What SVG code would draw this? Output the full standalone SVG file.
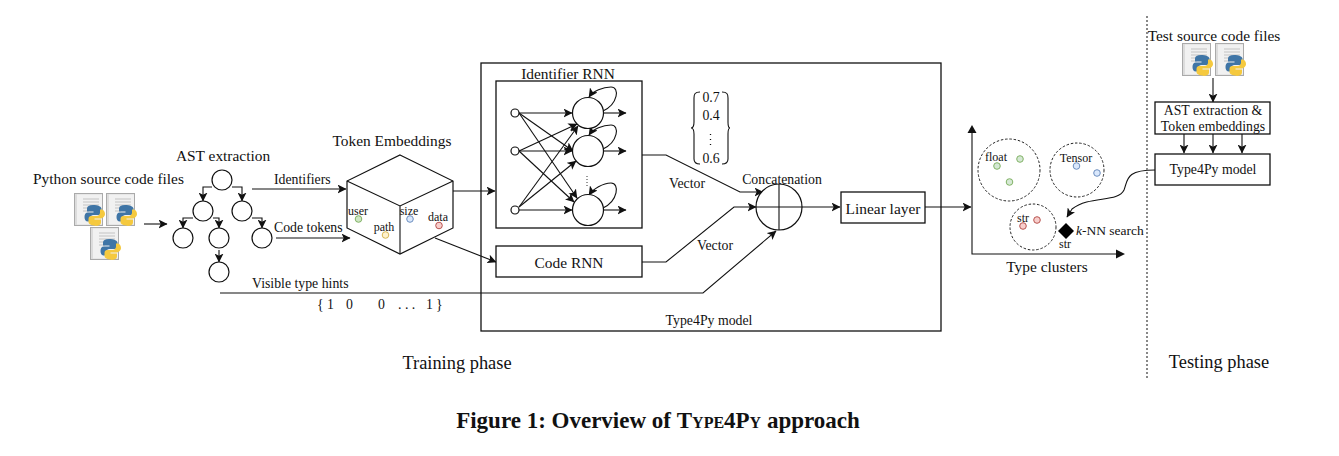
<svg xmlns="http://www.w3.org/2000/svg" width="1339" height="456" viewBox="0 0 1339 456">
<style>
text{font-family:"Liberation Serif","Times New Roman",serif;font-size:15.400px;fill:#111}
.m{text-anchor:middle}
.s{font-size:12px}
.t{font-size:13.800px}
.p{font-size:18.400px}
.l{fill:none;stroke:#111;stroke-width:1.1}
.a{fill:none;stroke:#111;stroke-width:1.1;marker-end:url(#ah)}
.b{fill:#fff;stroke:#111;stroke-width:1.3}
.n{fill:#fff;stroke:#111;stroke-width:1.2}
.d{fill:none;stroke:#222;stroke-width:1;stroke-dasharray:2.5 1.8}
</style>
<defs>
<marker id="ah" markerWidth="10" markerHeight="9" refX="8.500" refY="4.500" orient="auto" markerUnits="userSpaceOnUse"><path d="M0 0L9 4.500L0 9L2.200 4.500Z" fill="#111"/></marker>
<g id="file">
<rect x="0.500" y="0.500" width="28" height="32" fill="#dcdcdc" stroke="#aaa"/>
<rect x="3" y="1.500" width="25" height="30" fill="#f1f1f1"/>
<path d="M9 6h16M9 9h16M9 12h16M9 15h11M9 18h6" stroke="#c4c4c4" stroke-width="1.200"/>
<path d="M19 12c-4 0-6 1.500-6 3.500v3h6.500v1H14c-2.500 0-3.500 2-3.500 4.500s1 4.500 3.500 4.500h2v-3c0-2 1.500-3.500 3.500-3.500h5c2 0 3-1 3-3v-3.500C27 13.500 24 12 19 12z" fill="#3f75a6"/>
<path d="M21 33c4 0 6-1.500 6-3.500v-3h-6.500v-1H26c2.500 0 5-2 5-4.500s-1.500-4.500-4-4.500h-1v3c0 2-1.500 3.500-3.500 3.500h-5c-2 0-3 1-3 3v3c0 2 3 3.500 6.500 3.500z" fill="#f5c93e"/>
</g>
</defs>
<rect width="1339" height="456" fill="#fff"/>

<g id="connectors">
<path class="a" d="M144 224H167"/>
<path class="a" d="M212 187H203V201"/>
<path class="a" d="M232 187H242V201"/>
<path class="a" d="M193 218H183V228"/>
<path class="a" d="M213 218H219V228"/>
<path class="a" d="M252 218H262V228"/>
<path class="a" d="M219 250V262"/>
<path class="a" d="M252 189H346"/>
<path class="a" d="M276 238H350"/>
<path class="a" d="M453 191H495"/>
<path class="a" d="M435 238L496 262"/>
<path class="a" d="M220 293H703L776 231"/>
<path class="a" d="M519 113H572"/>
<path class="a" d="M519 113L573 151"/>
<path class="a" d="M519 113L577 198"/>
<path class="a" d="M519 151L577 124"/>
<path class="a" d="M519 151H572"/>
<path class="a" d="M519 151L574 202"/>
<path class="a" d="M519 207L578 126"/>
<path class="a" d="M519 207L576 161"/>
<path class="a" d="M519 210H572"/>
<path class="a" d="M603 113H626"/>
<path class="a" d="M603 151H626"/>
<path class="a" d="M603 210H626"/>
<path class="a" d="M603 111C618 104 620 87 611 87C603 87 593 91 589 97"/>
<path class="a" d="M603 149C618 142 620 125 611 125C603 125 593 129 589 135"/>
<path class="a" d="M603 208C618 201 620 183 611 183C603 183 593 189 589 195"/>
<path class="a" d="M642 155H666L740 192H763"/>
<path class="a" d="M642 262H666L734 207H756"/>
<path class="a" d="M802 207H840"/>
<path class="a" d="M925 207H971"/>
<path class="a" d="M1155 170C1125 170 1128 180 1124 190C1118 203 1090 195 1072 209L1067 217"/>
<path class="a" d="M1213 78V102"/>
<path class="a" d="M1184 134V153"/>
<path class="a" d="M1213 134V153"/>
<path class="a" d="M1242 134V153"/>
</g>

<g id="python-files">
<use href="#file" x="74" y="193"/><use href="#file" x="106" y="193"/><use href="#file" x="90" y="227"/>
<text class="m" x="108.500" y="184">Python source code files</text>
</g>
<g id="ast-tree">
<text class="m" x="223" y="161">AST extraction</text>
<circle class="n" cx="222" cy="180" r="10"/><circle class="n" cx="203" cy="211" r="10"/><circle class="n" cx="242" cy="211" r="10"/>
<circle class="n" cx="183" cy="238" r="10"/><circle class="n" cx="219" cy="238" r="10"/><circle class="n" cx="262" cy="238" r="10"/><circle class="n" cx="219" cy="272" r="10"/>
</g>
<text class="t" x="274" y="184">Identifiers</text>
<text class="t" x="274" y="232">Code tokens</text>
<text class="t" x="252" y="288">Visible type hints</text>
<g id="type-hints" class="t">
<text class="t" x="317" y="309">{</text><text class="t" x="327" y="309">1</text><text class="t" x="346" y="309">0</text><text class="t" x="378" y="309">0</text><text class="t" x="398" y="309">. . .</text><text class="t" x="426" y="309">1</text><text class="t" x="436" y="309">}</text>
</g>

<g id="token-embeddings">
<text class="m" x="392" y="146">Token Embeddings</text>
<path d="M400 155L453 181V228L400 254L347 228V181Z" fill="#fff" stroke="#111" stroke-width="1.200"/>
<path class="l" d="M347 181L400 206L453 181M400 206V254"/>
<text class="m s" x="358" y="215">user</text><circle cx="358.500" cy="219" r="3.300" fill="#cfe6c4" stroke="#82b366"/>
<text class="m s" x="384" y="231">path</text><circle cx="385.500" cy="235" r="3.300" fill="#fff2cc" stroke="#d6b656"/>
<text class="m s" x="409" y="215">size</text><circle cx="410" cy="219" r="3.300" fill="#dae8fc" stroke="#6c8ebf"/>
<text class="m s" x="438" y="221">data</text><circle cx="439" cy="225.500" r="3.300" fill="#f8cecc" stroke="#b85450"/>
</g>

<g id="type4py-model">
<rect x="481" y="63" width="460" height="268" fill="none" stroke="#111" stroke-width="1.300"/>
<text class="m t" x="709" y="325">Type4Py model</text>
</g>
<g id="identifier-rnn">
<rect x="496" y="81" width="146" height="147" fill="none" stroke="#111" stroke-width="1.300"/>
<text class="m" x="568" y="79">Identifier RNN</text>
<circle class="n" cx="515" cy="113" r="4"/><circle class="n" cx="515" cy="151" r="4"/><circle class="n" cx="515" cy="210" r="4"/>
<circle class="n" cx="588" cy="113" r="15.500"/><circle class="n" cx="588" cy="151" r="15.500"/><circle class="n" cx="588" cy="210" r="15.500"/>
<path d="M587 176v1M587 179v1M587 182v1M587 185v1" stroke="#333" stroke-width="1"/>
</g>
<g id="code-rnn"><rect class="b" x="496" y="246" width="146" height="31"/><text class="m" x="569" y="268">Code RNN</text></g>
<g id="vector-values">
<path class="l" d="M700 92C695 92 694 94 694 98V122C694 127 693 128 691 128C693 128 694 129 694 134V159C694 162 695 164 700 164"/>
<path class="l" d="M722 92C727 92 728 94 728 98V122C728 127 729 128 730 128C729 128 728 129 728 134V159C728 162 727 164 722 164"/>
<text class="m t" x="711" y="102">0.7</text>
<text class="m t" x="711" y="120">0.4</text>
<path d="M710.500 134v1M710.500 139v1M710.500 144v1" stroke="#111" stroke-width="1.300"/>
<text class="m t" x="711" y="163">0.6</text>
</g>
<text class="m t" x="687" y="188">Vector</text>
<text class="m t" x="715" y="250">Vector</text>
<g id="concatenation">
<circle class="n" cx="779" cy="207" r="23"/><path class="l" d="M779 184V230M756 207H802"/>
<text class="m t" x="782" y="184">Concatenation</text>
</g>
<g id="linear-layer"><rect class="b" x="841" y="192" width="84" height="31"/><text class="m" x="883" y="214">Linear layer</text></g>

<g id="type-clusters">
<path class="l" d="M1120 254H972V130"/>
<path d="M1125 254L1116 249.500V258.500Z M972 125L967.500 133H976.500Z" fill="#111"/>
<text class="m" x="1047" y="272">Type clusters</text>
<circle class="d" cx="1009" cy="170" r="31"/><circle class="d" cx="1077" cy="170" r="27"/><circle class="d" cx="1033" cy="227" r="23"/>
<text class="m s" x="996" y="161">float</text><text class="m s" x="1076" y="162">Tensor</text><text class="m s" x="1023" y="222">str</text>
<g fill="#d5e8d4" stroke="#82b366"><circle cx="997" cy="166" r="3.300"/><circle cx="1020" cy="159" r="3.300"/><circle cx="1009.500" cy="182" r="3.300"/></g>
<g fill="#dae8fc" stroke="#6c8ebf"><circle cx="1076.500" cy="166" r="3.300"/><circle cx="1097" cy="173" r="3.300"/></g>
<g fill="#f8cecc" stroke="#b85450"><circle cx="1037" cy="220" r="3.300"/><circle cx="1023" cy="226" r="3.300"/></g>
<path d="M1066 223L1074 231L1066 239L1058 231Z" fill="#000"/>
<text class="m s" x="1065" y="248">str</text>
<text x="1076" y="235" style="font-size:13.500px"><tspan font-style="italic">k</tspan>-NN search</text>
</g>

<g id="test-files">
<use href="#file" x="1182" y="43"/><use href="#file" x="1215" y="43"/>
<text class="m" x="1214" y="41">Test source code files</text>
</g>
<g id="ast-token-box"><rect class="b" x="1155" y="102" width="115" height="32"/>
<text class="m t" x="1213" y="115">AST extraction &amp;</text><text class="m t" x="1213" y="131">Token embeddings</text></g>
<g id="type4py-box"><rect class="b" x="1155" y="154" width="115" height="31"/><text class="m t" x="1213" y="174">Type4Py model</text></g>
<path d="M1147 16V378" stroke="#888" stroke-width="2" stroke-dasharray="2 2" fill="none"/>
<text class="m p" x="457" y="369">Training phase</text>
<text class="m p" x="1219" y="368">Testing phase</text>
<text class="m" x="658" y="428" style="font-size:23px;font-weight:bold">Figure 1: Overview of <tspan style="font-variant:small-caps">Type4Py</tspan> approach</text>
</svg>
